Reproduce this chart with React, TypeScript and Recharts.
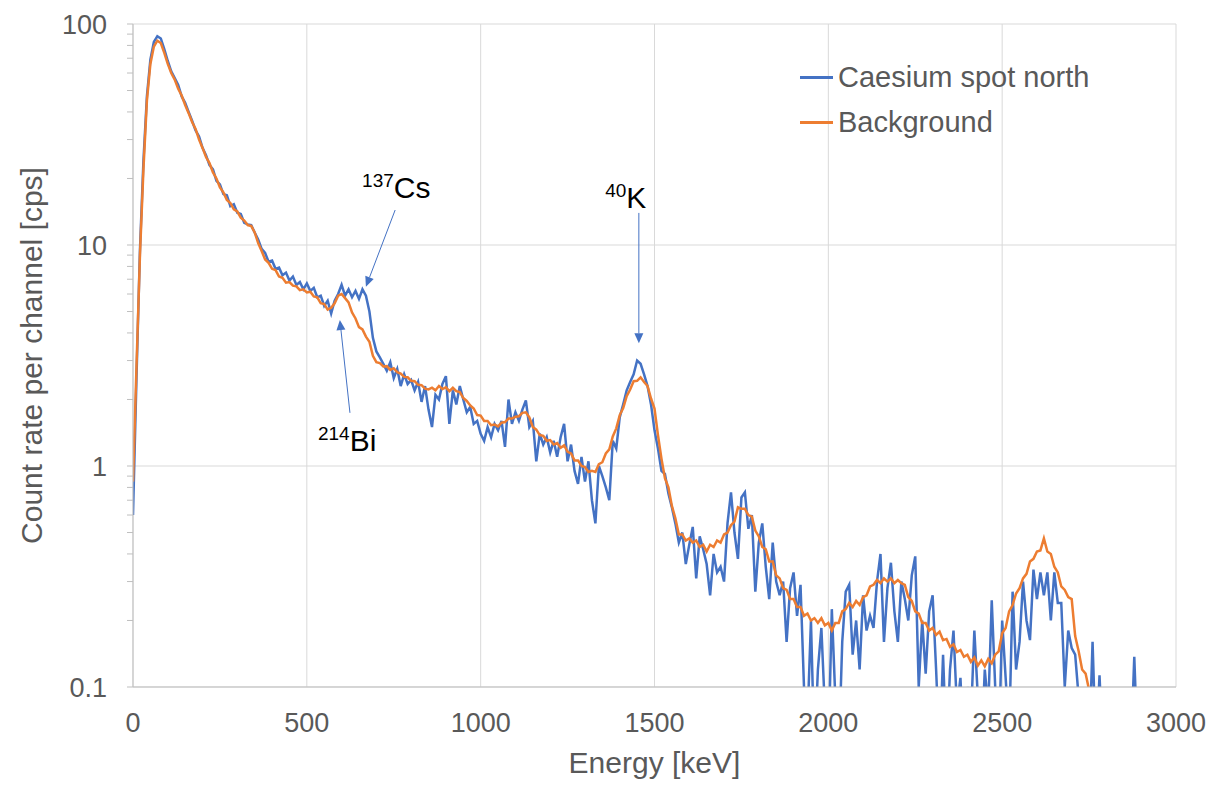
import React from 'react';
import {
  LineChart, Line, XAxis, YAxis, CartesianGrid, Legend, ReferenceLine, ReferenceDot
} from 'recharts';

// one value every 10 keV, starting at 0 keV
const STEP_KEV = 10;

const caesiumCps = [
  0.6, 2.5, 9.5, 24, 47, 69, 83, 88, 86, 77,
  68, 61, 57, 53, 47, 44, 40, 36.5, 33, 31,
  27.5, 25.5, 23, 22, 19.5, 18.8, 17, 16.8, 15, 15.3,
  14, 13.8, 12.6, 12.4, 12.3, 11.4, 10.6, 9.6, 9.2, 8.4,
  8.5, 7.8, 7.9, 7.3, 7.5, 6.9, 7.2, 6.6, 6.8, 6.3,
  6.7, 6.2, 6.4, 5.8, 5.9, 5.3, 5.6, 4.9, 5.6, 6.0,
  6.6, 5.9, 6.3, 5.8, 6.2, 5.7, 6.3, 5.9, 5.0, 3.8,
  3.3, 3.1, 2.9, 2.7, 2.95, 2.5, 2.75, 2.3, 2.6, 2.35,
  2.45, 2.2, 2.4, 1.95, 2.3, 1.8, 1.5, 2.1, 2.0, 2.35,
  2.55, 1.55, 2.2, 1.9, 2.3, 2.0, 1.75, 1.85, 1.55, 1.6,
  1.4, 1.3, 1.5, 1.35, 1.55, 1.45, 1.6, 1.22, 2.0, 1.55,
  1.75, 1.6, 1.8, 1.98, 1.5, 1.6, 1.05, 1.4, 1.25, 1.35,
  1.15, 1.3, 1.1, 1.35, 1.55, 1.05, 1.25, 0.95, 0.83, 1.1,
  0.85, 1.05, 0.7, 0.55, 1.0, 0.9, 0.8, 0.7, 1.3, 1.2,
  1.66, 1.9, 2.2, 2.4, 2.6, 3.0, 2.9, 2.6, 2.3, 1.9,
  1.45, 1.2, 0.95, 0.92, 0.75, 0.65, 0.55, 0.45, 0.5, 0.36,
  0.44, 0.53, 0.31, 0.48, 0.42, 0.36, 0.26, 0.4, 0.33, 0.35,
  0.3, 0.55, 0.76, 0.5, 0.38, 0.72, 0.76, 0.52, 0.6, 0.27,
  0.45, 0.55, 0.35, 0.25, 0.45, 0.3, 0.26, 0.3, 0.16, 0.28,
  0.33, 0.21, 0.29, 0.1, 0.07, 0.2, 0.05, 0.12, 0.185, 0.08,
  0.05, 0.225, 0.09, 0.05, 0.16, 0.27, 0.29, 0.14, 0.2, 0.12,
  0.26, 0.18, 0.21, 0.185, 0.3, 0.4, 0.16, 0.28, 0.365, 0.22,
  0.16, 0.3, 0.25, 0.2, 0.32, 0.39, 0.1, 0.2, 0.115, 0.22,
  0.26, 0.12, 0.05, 0.14, 0.05, 0.12, 0.18, 0.08, 0.11, 0.05,
  0.1, 0.07, 0.18, 0.09, 0.05, 0.12, 0.08, 0.247, 0.1, 0.05,
  0.2, 0.11, 0.06, 0.27, 0.12, 0.16, 0.3, 0.2, 0.163, 0.34,
  0.25, 0.33, 0.26, 0.33, 0.2, 0.33, 0.24, 0.24, 0.1, 0.18,
  0.15, 0.14, 0.09, 0.05, 0.08, 0.05, 0.16, 0.05, 0.113, 0.05,
  0.05, 0.05, 0.05, 0.05, 0.05, 0.05, 0.05, 0.05, 0.137, 0.05,
];

const backgroundCps = [
  0.85, 2.8, 9, 22, 45, 66, 79, 84, 82, 74,
  66, 60, 56, 51, 47.5, 43, 39.5, 36, 33.5, 30,
  27.5, 25, 23.5, 21.3, 20, 18.2, 17.3, 16, 15.5, 14.5,
  14.2, 13.3, 12.9, 12.3, 12.2, 11.4, 10.2, 9.4, 8.6, 8.3,
  7.8, 7.7, 7.2, 7.1, 6.75, 6.8, 6.55, 6.5, 6.25, 6.3,
  6.1, 6.15, 5.85, 5.8, 5.45, 5.4, 5.1, 5.2, 5.45, 5.9,
  6.0, 5.75, 5.5, 4.95, 4.65, 4.25, 4.15, 3.85, 3.65, 3.15,
  2.95, 2.92, 2.82, 2.83, 2.72, 2.77, 2.66, 2.62, 2.53, 2.52,
  2.43, 2.42, 2.33, 2.32, 2.24, 2.22, 2.26, 2.2, 2.3, 2.23,
  2.27, 2.18, 2.26, 2.18, 2.16, 2.03, 1.97, 1.88, 1.82, 1.7,
  1.69, 1.6, 1.6, 1.53, 1.54, 1.51, 1.57, 1.58, 1.64, 1.64,
  1.67, 1.68, 1.74, 1.75, 1.66, 1.5, 1.46, 1.38, 1.37, 1.3,
  1.31, 1.25, 1.27, 1.21, 1.24, 1.16, 1.14, 1.06, 1.06, 1.0,
  0.99, 0.94, 0.95, 0.94, 1.02, 1.04, 1.14, 1.19, 1.36, 1.48,
  1.7, 1.83, 2.07, 2.22, 2.42, 2.43, 2.52, 2.4, 2.3, 2.02,
  1.82, 1.38, 1.08, 0.88, 0.8, 0.66, 0.58, 0.49, 0.49, 0.46,
  0.47, 0.45, 0.46, 0.43, 0.44, 0.41, 0.44, 0.43, 0.46, 0.45,
  0.49, 0.5, 0.54, 0.56, 0.65, 0.64, 0.64, 0.6, 0.59, 0.51,
  0.48, 0.43, 0.42, 0.37, 0.37, 0.32, 0.31, 0.28, 0.275, 0.25,
  0.25, 0.23, 0.23, 0.21, 0.215, 0.2, 0.205, 0.195, 0.205, 0.19,
  0.195, 0.18, 0.195, 0.195, 0.22, 0.225, 0.24, 0.23, 0.245, 0.235,
  0.255, 0.26, 0.285, 0.29, 0.305, 0.295, 0.31, 0.3, 0.31, 0.295,
  0.305, 0.295, 0.29, 0.255, 0.245, 0.22, 0.215, 0.195, 0.195, 0.18,
  0.185, 0.172, 0.178, 0.163, 0.165, 0.152, 0.156, 0.144, 0.147, 0.137,
  0.14, 0.13, 0.136, 0.125, 0.132, 0.124, 0.134, 0.128, 0.14, 0.145,
  0.175, 0.185, 0.22, 0.235, 0.265, 0.28, 0.31, 0.325, 0.37, 0.38,
  0.41, 0.415, 0.47, 0.41, 0.4, 0.35, 0.33, 0.285, 0.275, 0.255,
  0.25, 0.17, 0.145, 0.12, 0.115, 0.097, 0.085,
];

const seriesNames = ['Caesium spot north', 'Background'];

const xTicks = [0, 500, 1000, 1500, 2000, 2500, 3000];
const yDecades = [0.1, 1, 10, 100];
const yTicks = [
  0.1, 0.2, 0.3, 0.4, 0.5, 0.6, 0.7, 0.8, 0.9,
  1, 2, 3, 4, 5, 6, 7, 8, 9,
  10, 20, 30, 40, 50, 60, 70, 80, 90, 100,
];

// peak annotations: isotope mass number, element, text anchor (keV, cps)
const peakLabels = [
  { mass: '137', el: 'Cs', e: 659, cps: 16.3 },
  { mass: '40', el: 'K', e: 1358, cps: 14.7 },
  { mass: '214', el: 'Bi', e: 532, cps: 1.17 },
];
// arrows from label to peak: [keV, cps] -> [keV, cps]
const peakArrows = [
  { from: [754, 14.4], to: [670, 6.47] },
  { from: [1455, 13.97], to: [1455, 3.59] },
  { from: [624, 1.74], to: [595, 4.58] },
];

const caesiumData = caesiumCps.map((v, i) => ({ e: i * STEP_KEV, cps: v }));
const backgroundData = backgroundCps.map((v, i) => ({ e: i * STEP_KEV, cps: v }));

const FONT = '"Liberation Sans", Arial, sans-serif';
const GREY = '#595959';
const BLUE = '#4472c4';
const ORANGE = '#ed7d31';

const Arrow = (p: any) => {
  const { x1, y1, x2, y2 } = p;
  const dx = x2 - x1, dy = y2 - y1;
  const len = Math.hypot(dx, dy) || 1;
  const ux = dx / len, uy = dy / len;
  const hl = 10, hw = 4.5;
  const bx = x2 - ux * hl, by = y2 - uy * hl;
  return (
    <g>
      <line x1={x1} y1={y1} x2={bx} y2={by} stroke={BLUE} strokeWidth={1} />
      <polygon
        points={`${x2},${y2} ${bx - uy * hw},${by + ux * hw} ${bx + uy * hw},${by - ux * hw}`}
        fill={BLUE}
      />
    </g>
  );
};

const renderLegend = (props: any) => {
  const items = [...(props.payload || [])].sort(
    (a: any, b: any) => seriesNames.indexOf(a.value) - seriesNames.indexOf(b.value)
  );
  return (
    <div style={{ fontFamily: FONT }}>
      {items.map((p: any) => (
        <div key={p.value} style={{ display: 'flex', alignItems: 'center', height: 45 }}>
          <span style={{ width: 33, height: 2.5, background: p.color, marginRight: 5 }} />
          <span style={{ fontSize: 29, color: GREY }}>{p.value}</span>
        </div>
      ))}
    </div>
  );
};

export default function App() {
  return (
    <div style={{ position: 'absolute', left: 0, top: 0, background: '#fff' }}>
      <LineChart width={1224} height={787} margin={{ top: 24, right: 48, bottom: 0, left: 0 }}>
        <CartesianGrid stroke="#d9d9d9" horizontalValues={yDecades} />
        <XAxis
          type="number"
          dataKey="e"
          domain={[0, 3000]}
          ticks={xTicks}
          interval={0}
          allowDataOverflow
          height={100}
          tickLine={false}
          tickSize={0}
          tickMargin={26}
          axisLine={{ stroke: '#bfbfbf' }}
          tick={{ fill: GREY, fontSize: 27, fontFamily: FONT }}
          label={{
            content: ({ viewBox }: any) => (
              <text x={viewBox.x + viewBox.width / 2} y={viewBox.y + 86} textAnchor="middle"
                fill={GREY} fontSize={30} fontFamily={FONT}>Energy [keV]</text>
            ),
          }}
        />
        <YAxis
          type="number"
          scale="log"
          domain={[0.1, 100]}
          ticks={yTicks}
          interval={0}
          allowDataOverflow
          width={133}
          tickSize={6}
          tickMargin={20}
          tickLine={{ stroke: '#bfbfbf' }}
          axisLine={{ stroke: '#bfbfbf' }}
          tickFormatter={(v: number) => (yDecades.includes(v) ? String(v) : '')}
          tick={{ fill: GREY, fontSize: 27, fontFamily: FONT }}
          label={{
            content: ({ viewBox }: any) => {
              const cy = viewBox.y + viewBox.height / 2;
              return (
                <text x={42} y={cy} transform={`rotate(-90, 42, ${cy})`} textAnchor="middle"
                  fill={GREY} fontSize={30} fontFamily={FONT}>Count rate per channel [cps]</text>
              );
            },
          }}
        />
        <Legend
          layout="vertical"
          align="center"
          verticalAlign="middle"
          content={renderLegend}
          wrapperStyle={{ position: 'absolute', left: 800, top: 55, width: 400 }}
        />
        <Line data={caesiumData} dataKey="cps" name={seriesNames[0]} type="linear"
          stroke={BLUE} strokeWidth={2.5} dot={false} isAnimationActive={false} />
        <Line data={backgroundData} dataKey="cps" name={seriesNames[1]} type="linear"
          stroke={ORANGE} strokeWidth={2.5} dot={false} isAnimationActive={false} />
        {peakArrows.map((a, i) => (
          <ReferenceLine key={`arrow-${i}`}
            segment={[{ x: a.from[0], y: a.from[1] }, { x: a.to[0], y: a.to[1] }]}
            shape={Arrow} />
        ))}
        {peakLabels.map((l) => (
          <ReferenceDot key={l.el} x={l.e} y={l.cps} r={0}
            shape={(p: any) => (
              <text x={p.cx} y={p.cy} fontFamily={FONT} fill="#000">
                <tspan fontSize={19} dy={-11}>{l.mass}</tspan>
                <tspan fontSize={30} dy={11}>{l.el}</tspan>
              </text>
            )}
          />
        ))}
      </LineChart>
    </div>
  );
}
